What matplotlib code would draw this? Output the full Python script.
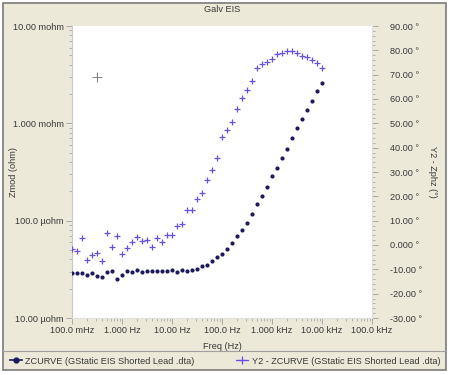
import matplotlib
matplotlib.use("Agg")
import matplotlib.pyplot as plt
from matplotlib.lines import Line2D
from matplotlib.patches import Rectangle
from matplotlib.ticker import FixedLocator, LogLocator, AutoMinorLocator, NullFormatter

# sweep frequencies (Hz)
freq = [0.1, 0.126, 0.158, 0.2, 0.251, 0.316, 0.398, 0.501, 0.631, 0.794,
        1.0, 1.26, 1.58, 2.0, 2.51, 3.16, 3.98, 5.01, 6.31, 7.94,
        10, 12.6, 15.8, 20, 25.1, 31.6, 39.8, 50.1, 63.1, 79.4,
        100, 126, 158, 200, 251, 316, 398, 501, 631, 794,
        1000, 1259, 1585, 1995, 2512, 3162, 3981, 5012, 6310, 7943, 10000]

# |Z| in micro-ohm
zmod_uohm = [29.2, 29.2, 29.0, 27.9, 29.2, 27.2, 26.6, 29.7, 30.4, 25.0,
             27.9, 30.2, 29.7, 31.1, 29.7, 30.4, 30.2, 30.2, 30.2, 30.2,
             31.4, 29.7, 31.1, 30.4, 31.1, 32.1, 34.2, 35.3, 38.8, 42.7,
             45.5, 51.2, 59.4, 70.4, 79.3, 95.4, 117, 147, 178, 224,
             285, 350, 444, 550, 708, 893, 1105, 1380, 1711, 2163, 2620]

# phase in degrees
zphz = [-1.6, -2.5, 2.7, -6.2, -4.1, -3.3, -6.4, 4.8, -0.7, 3.7,
        -3.8, -1.2, 1.2, 3.4, 1.6, 2.0, -0.7, 3.0, 1.2, 4.2,
        4.2, 7.9, 8.5, 14.4, 14.4, 18.7, 21.3, 26.7, 30.8, 35.9,
        44.3, 47.3, 50.6, 55.8, 60.5, 63.8, 67.3, 72.7, 74.4, 75.3,
        76.3, 78.5, 78.8, 79.6, 79.6, 78.8, 77.8, 77.2, 76.0, 74.7, 72.6]

x_ticks = [0.1, 1, 10, 100, 1e3, 1e4, 1e5]
x_labels = ["100.0 mHz", "1.000 Hz", "10.00 Hz", "100.0 Hz",
            "1.000 kHz", "10.00 kHz", "100.0 kHz"]
y_ticks = [1e-5, 1e-4, 1e-3, 1e-2]
y_labels = ["10.00 \u00b5ohm", "100.0 \u00b5ohm", "1.000 mohm", "10.00 mohm"]
y2_ticks = [-30, -20, -10, 0, 10, 20, 30, 40, 50, 60, 70, 80, 90]
y2_labels = ["-30.00 \u00b0", "-20.00 \u00b0", "-10.00 \u00b0", "0.000 \u00b0",
             "10.00 \u00b0", "20.00 \u00b0", "30.00 \u00b0", "40.00 \u00b0",
             "50.00 \u00b0", "60.00 \u00b0", "70.00 \u00b0", "80.00 \u00b0",
             "90.00 \u00b0"]

plt.rcParams['font.family'] = ['Liberation Sans', 'DejaVu Sans']
txt = '#383838'
tick_c = '#a8a8a8'
bg = '#ece9d8'
dot_c = '#1c1a5c'
cross_c = '#6a4fe0'
fs = 6.6

fig = plt.figure(figsize=(4.5, 3.75), dpi=100, facecolor='white')
fig.patches.append(Rectangle((3 / 450, 1 - 370 / 375), 443 / 450, 367 / 375,
                             transform=fig.transFigure, facecolor=bg,
                             edgecolor='#7a7a7a', linewidth=1.2, zorder=-10))
fig.add_artist(Line2D([3 / 450, 446 / 450], [1 - 351 / 375, 1 - 351 / 375],
                      transform=fig.transFigure, color='#a0a0a0', lw=0.8))

ax = fig.add_axes([72 / 450, 1 - 318 / 375, 300 / 450, 292 / 375])
ax.set_facecolor('white')
ax2 = ax.twinx()

ax.plot(freq, [z * 1e-6 for z in zmod_uohm], 'o', color=dot_c,
        markersize=3, markeredgewidth=0, zorder=3)
ax2.plot(freq, zphz, '+', color=cross_c, markersize=5, markeredgewidth=0.9)

# cursor crosshair left on the chart
ax.plot([0.316], [3.0e-3], '+', color='#707070', markersize=7,
        markeredgewidth=0.6)

ax.set_xscale('log')
ax.set_yscale('log')
ax.set_xlim(0.1, 1e5)
ax.set_ylim(1e-5, 1e-2)
ax2.set_ylim(-30, 90)

ax.xaxis.set_major_locator(FixedLocator(x_ticks))
ax.set_xticklabels(x_labels)
ax.xaxis.set_minor_locator(LogLocator(base=10, subs=range(2, 10)))
ax.xaxis.set_minor_formatter(NullFormatter())
ax.yaxis.set_major_locator(FixedLocator(y_ticks))
ax.set_yticklabels(y_labels)
ax.yaxis.set_minor_locator(LogLocator(base=10, subs=range(2, 10)))
ax.yaxis.set_minor_formatter(NullFormatter())
ax2.yaxis.set_major_locator(FixedLocator(y2_ticks))
ax2.set_yticklabels(y2_labels)
ax2.yaxis.set_minor_locator(AutoMinorLocator(5))

for a in (ax, ax2):
    a.tick_params(which='major', direction='out', length=4, width=0.7,
                  color=tick_c, labelcolor=txt, labelsize=fs, pad=2)
    a.tick_params(which='minor', direction='out', length=2, width=0.6,
                  color=tick_c)
    for s in a.spines.values():
        s.set_visible(False)
ax.spines['left'].set_visible(True)
ax.spines['left'].set_color('#c8c8c8')
ax.spines['bottom'].set_visible(True)
ax.spines['bottom'].set_color('#e0e0e0')
ax2.spines['right'].set_visible(True)
ax2.spines['right'].set_color('#e0e0e0')
ax2.tick_params(axis='y', pad=9)

ax.set_xlabel('Freq (Hz)', fontsize=fs, color=txt, labelpad=5)
fig.text(13 / 450, 1 - 172 / 375, 'Zmod (ohm)', fontsize=fs, color=txt,
         rotation=90, ha='center', va='center')
fig.text(432 / 450, 1 - 172 / 375, 'Y2 - Zphz (\u00b0)', fontsize=fs,
         color=txt, rotation=-90, ha='center', va='center')
fig.text(222 / 450, 1 - 9 / 375, 'Galv EIS', fontsize=fs, color=txt,
         ha='center', va='center')

handles = [Line2D([], [], color=dot_c, marker='o', markersize=3.5, lw=1.2),
           Line2D([], [], color=cross_c, marker='+', markersize=6, lw=0.9,
                  markeredgewidth=0.9)]
labels = ['ZCURVE (GStatic EIS Shorted Lead .dta)',
          'Y2 - ZCURVE (GStatic EIS Shorted Lead .dta)']
fig.legend(handles, labels, loc='center', ncol=2, frameon=False,
           bbox_to_anchor=(0.5, 1 - 361 / 375), fontsize=fs, handlelength=1.3,
           handletextpad=0.4, columnspacing=4.5, labelcolor=txt)

fig.savefig('out.png', dpi=100, facecolor='white')
